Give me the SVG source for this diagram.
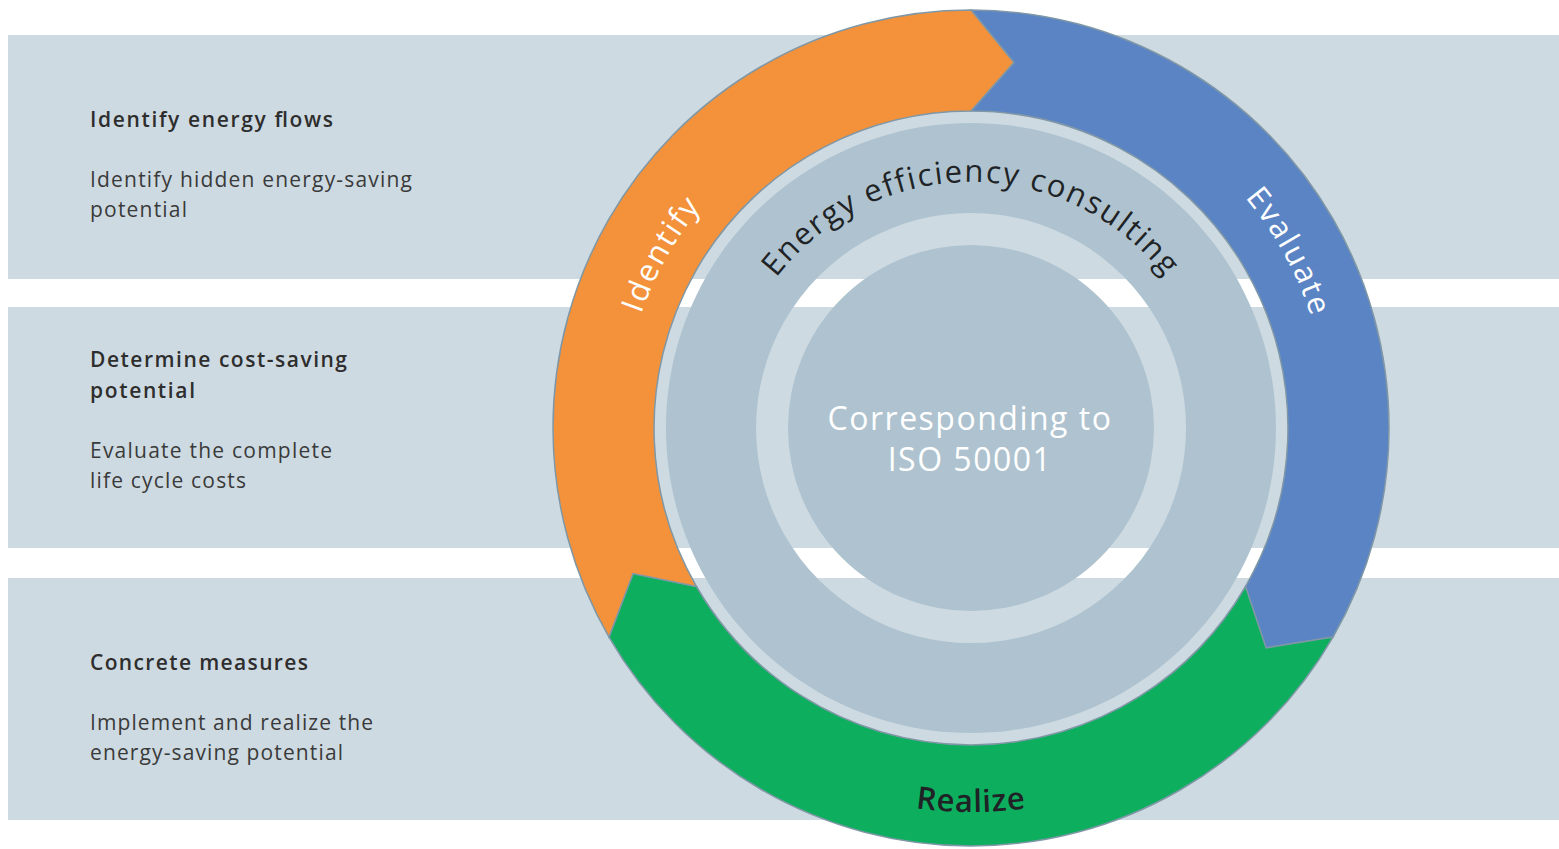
<svg xmlns="http://www.w3.org/2000/svg" xmlns:xlink="http://www.w3.org/1999/xlink" width="1559" height="849" viewBox="0 0 1559 849">
  <style>
    .band { fill: #cedae2; }
    .seg { stroke: #7f97a6; stroke-width: 1.5; stroke-linejoin: miter; }
    .disk { fill: #aec3cf; }
    .head { font-family: "Open Sans", "Liberation Sans", sans-serif; font-size: 21px; font-weight: 600; fill: #2e2e2e; }
    .body { font-family: "Open Sans", "Liberation Sans", sans-serif; font-size: 21px; font-weight: 400; fill: #3a3a3a; }
    .arcw { font-family: "Open Sans", "Liberation Sans", sans-serif; font-size: 31px; fill: #ffffff; letter-spacing: 2px; }
    .arcd { font-family: "Open Sans", "Liberation Sans", sans-serif; font-size: 31px; fill: #1f2326; letter-spacing: 1.8px; }
    .center { font-family: "Open Sans", "Liberation Sans", sans-serif; font-size: 32px; fill: #ffffff; letter-spacing: 1.5px; text-anchor: middle; }
  </style>
  <defs>
    <path id="idPath" d="M668.8,602.5 A349,349 0 0 1 971,79"/>
    <path id="evPath" d="M971,70 A358,358 0 0 1 1281,607"/>
    <path id="rePath" d="M638.4,620 A384,384 0 0 0 1303.6,620"/>
    <path id="enPath" d="M725,428 A246,246 0 0 1 1217,428"/>
  </defs>

  <rect width="1559" height="849" fill="#ffffff"/>

  <g id="bands">
    <rect class="band" x="8" y="35" width="1551" height="244"/>
    <rect class="band" x="8" y="307" width="1551" height="241"/>
    <rect class="band" x="8" y="578" width="1551" height="242"/>
  </g>

  <g id="row-identify">
    <text class="head" x="90" y="127" textLength="243" lengthAdjust="spacing">Identify energy flows</text>
    <text class="body" x="90" y="187" textLength="322" lengthAdjust="spacing">Identify hidden energy-saving</text>
    <text class="body" x="90" y="217" textLength="97" lengthAdjust="spacing">potential</text>
  </g>
  <g id="row-evaluate">
    <text class="head" x="90" y="367" textLength="257" lengthAdjust="spacing">Determine cost-saving</text>
    <text class="head" x="90" y="398" textLength="105" lengthAdjust="spacing">potential</text>
    <text class="body" x="90" y="458" textLength="242" lengthAdjust="spacing">Evaluate the complete</text>
    <text class="body" x="90" y="488" textLength="156" lengthAdjust="spacing">life cycle costs</text>
  </g>
  <g id="row-realize">
    <text class="head" x="90" y="670" textLength="218" lengthAdjust="spacing">Concrete measures</text>
    <text class="body" x="90" y="730" textLength="283" lengthAdjust="spacing">Implement and realize the</text>
    <text class="body" x="90" y="760" textLength="253" lengthAdjust="spacing">energy-saving potential</text>
  </g>

  <g id="core">
    <path class="disk" fill-rule="evenodd" d="M971,123 A305,305 0 1 1 970.9,123 Z M971,213 A215,215 0 1 0 971.1,213 Z"/>
    <circle class="disk" cx="971" cy="428" r="183"/>
    <text class="arcd"><textPath xlink:href="#enPath" href="#enPath" startOffset="50%" text-anchor="middle">Energy efficiency consulting</textPath></text>
    <text class="center" x="970" y="430">Corresponding to</text>
    <text class="center" x="970" y="471">ISO 50001</text>
  </g>

  <g id="stage-evaluate">
    <path class="seg" fill="#5b84c4" d="M971,10 A418,418 0 0 1 1333,637 L1266.1,647.9 L1245.5,586.5 A317,317 0 0 0 971,111 L1013.9,62.5 Z"/>
    <text class="arcw"><textPath xlink:href="#evPath" href="#evPath" startOffset="381.2" text-anchor="middle">Evaluate</textPath></text>
  </g>
  <g id="stage-realize">
    <path class="seg" fill="#0daf5e" d="M1333,637 A418,418 0 0 1 609,637 L633,573.5 L696.5,586.5 A317,317 0 0 0 1245.5,586.5 L1266.1,647.9 Z"/>
    <text class="arcd" style="letter-spacing:0.8px;font-weight:600"><textPath xlink:href="#rePath" href="#rePath" startOffset="50%" text-anchor="middle">Realize</textPath></text>
  </g>
  <g id="stage-identify">
    <path class="seg" fill="#f3923a" d="M609,637 A418,418 0 0 1 971,10 L1013.9,62.5 L971,111 A317,317 0 0 0 696.5,586.5 L633,573.5 Z"/>
    <text class="arcw"><textPath xlink:href="#idPath" href="#idPath" startOffset="361.2" text-anchor="middle">Identify</textPath></text>
  </g>
</svg>
